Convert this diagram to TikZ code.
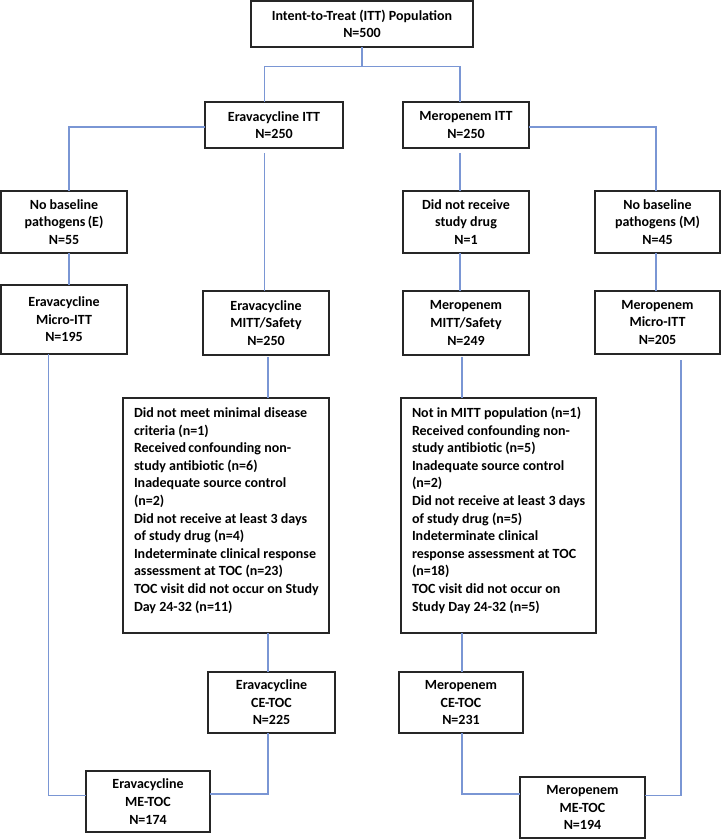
\documentclass[tikz,border=0pt]{standalone}
\usepackage{fontspec}
\setmainfont{Carlito}
\definecolor{conncol}{RGB}{122,150,212}
\definecolor{boxcol}{RGB}{38,38,38}
\begin{document}
\begin{tikzpicture}[x=1pt,y=-1pt,
  box/.style={draw=boxcol, line width=1.4pt, fill=white, inner sep=0pt, outer sep=0pt,
    anchor=north west, align=center, font=\fontsize{14}{17.6}\selectfont\bfseries},
  excltext/.style={inner sep=0pt, outer sep=0pt, anchor=base west, align=left,
    font=\fontsize{14}{17.6}\selectfont\bfseries},
  conn/.style={draw=conncol, line width=1.2pt}]
\useasboundingbox (0,0) rectangle (721,839);
\fill[white] (0,0) rectangle (721,839);
% boxes
\node[box, minimum width=222, minimum height=46] (itt) at (251,1) {Intent-to-Treat (ITT) Population\\N=500};
\node[box, minimum width=138, minimum height=46] (eitt) at (205,102) {Eravacycline ITT\\N=250};
\node[box, minimum width=126, minimum height=46] (mitt) at (403,102) {Meropenem ITT\\N=250};
\node[box, minimum width=126, minimum height=62] (nbe) at (1,191) {No baseline\\pathogens\,(E)\\N=55};
\node[box, minimum width=126, minimum height=62] (dnr) at (403,191) {Did not receive\\study drug\\N=1};
\node[box, minimum width=125, minimum height=62] (nbm) at (595,191) {No baseline\\pathogens (M)\\N=45};
\node[box, minimum width=126, minimum height=69] (emicro) at (1,285) {Eravacycline\\Micro-ITT\\N=195};
\node[box, minimum width=126, minimum height=64] (emitt) at (203,291) {Eravacycline\\MITT/Safety\\N=250};
\node[box, minimum width=126, minimum height=64] (mmitt) at (403,291) {Meropenem\\MITT/Safety\\N=249};
\node[box, minimum width=125, minimum height=63] (mmicro) at (595,291) {Meropenem\\Micro-ITT\\N=205};
\node[box, minimum width=206, minimum height=235] (eexc) at (123,398) {};
\node[box, minimum width=195, minimum height=235] (mexc) at (401,398) {};
\node[excltext] (eexct) at (134,611) {Did not meet minimal disease\\criteria (n=1)\\Received\,confounding non-\\study antibiotic (n=6)\\Inadequate source control\\(n=2)\\Did not receive at least 3 days\\of study drug (n=4)\\Indeterminate clinical response\\assessment at TOC (n=23)\\TOC visit did not occur on Study\\Day 24-32 (n=11)};
\node[excltext] (mexct) at (412,611) {Not in MITT population (n=1)\\Received confounding non-\\study antibiotic (n=5)\\Inadequate source control\\(n=2)\\Did not receive at least 3 days\\of study drug (n=5)\\Indeterminate clinical\\response assessment at TOC\\(n=18)\\TOC visit did not occur on\\Study Day 24-32 (n=5)};
\node[box, minimum width=127, minimum height=61] (ece) at (208,672) {Eravacycline\\CE-TOC\\N=225};
\node[box, minimum width=124, minimum height=61] (mce) at (399,672) {Meropenem\\CE-TOC\\N=231};
\node[box, minimum width=124, minimum height=61] (eme) at (86,771) {Eravacycline\\ME-TOC\\N=174};
\node[box, minimum width=125, minimum height=61] (mme) at (520,777) {Meropenem\\ME-TOC\\N=194};
% helper coordinates
\coordinate (cA) at (264.5,0);
\coordinate (cB) at (460,0);
\coordinate (cL) at (69,0);
\coordinate (cR) at (656,0);
\coordinate (cE) at (268,0);
\coordinate (cM) at (462,0);
\coordinate (cLL) at (48.5,0);
\coordinate (cRR) at (681,0);
\coordinate (jT) at (362,66.5);
\coordinate (ySide) at (0,127);
\coordinate (yBL) at (0,795.5);
\coordinate (yBR) at (0,794);
% connectors
\draw[conn] (itt.south) -- (jT);
\draw[conn] (cA |- eitt.north) |- (jT) -| (cB |- mitt.north);
\draw[conn] (eitt.west |- ySide) -| (cL |- nbe.north);
\draw[conn] (mitt.east |- ySide) -| (cR |- nbm.north);
\draw[conn, shorten <=5pt] (cA |- eitt.south) -- (cA |- emitt.north);
\draw[conn, shorten <=5pt] (cB |- mitt.south) -- (cB |- dnr.north);
\draw[conn] (cL |- nbe.south) -- (cL |- emicro.north);
\draw[conn] (cB |- dnr.south) -- (cB |- mmitt.north);
\draw[conn] (cR |- nbm.south) -- (cR |- mmicro.north);
\draw[conn, shorten <=2pt] (cE |- emitt.south) -- (cE |- eexc.north);
\draw[conn, shorten <=2pt] (cM |- mmitt.south) -- (cM |- mexc.north);
\draw[conn] (cE |- eexc.south) -- (cE |- ece.north);
\draw[conn] (cM |- mexc.south) -- (cM |- mce.north);
\draw[conn] (cLL |- emicro.south) |- (eme.west |- yBL);
\draw[conn] (cE |- ece.south) |- (eme.east |- yBR);
\draw[conn] (cM |- mce.south) |- (mme.west |- yBR);
\draw[conn, shorten <=6pt] (cRR |- mmicro.south) |- (mme.east |- yBL);
\end{tikzpicture}
\end{document}
